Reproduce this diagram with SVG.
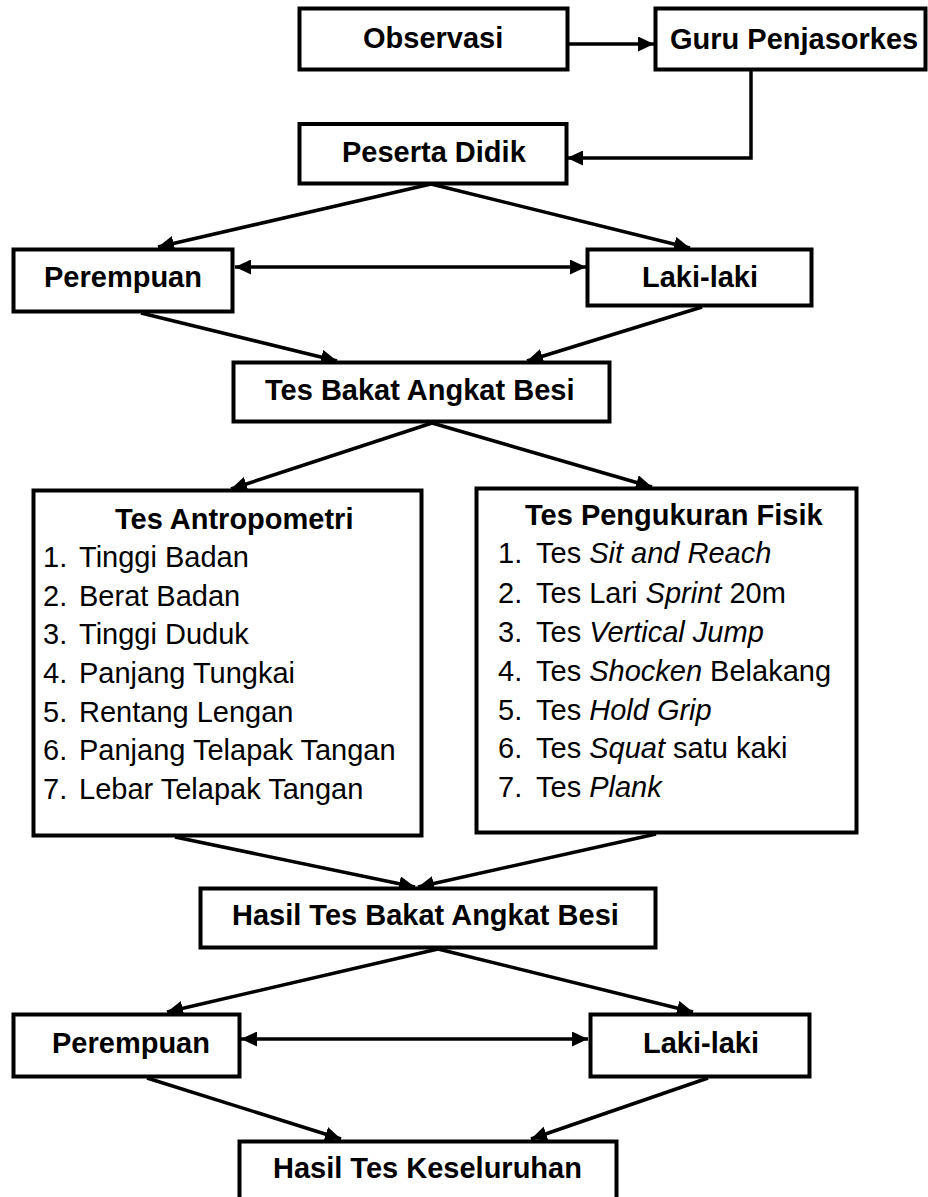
<svg xmlns="http://www.w3.org/2000/svg" width="928" height="1197" viewBox="0 0 928 1197">
<style>
.box{fill:#fff;stroke:#000;stroke-width:4}
.t{font-family:"Liberation Sans",Arial,sans-serif;font-size:29px;fill:#000}
.b{font-weight:bold}
.i{font-style:italic}
.c{fill:none;stroke:#000;stroke-width:3.5}
</style>
<defs>
<marker id="ah" markerWidth="16" markerHeight="15" refX="16" refY="7.5" orient="auto-start-reverse" markerUnits="userSpaceOnUse">
<path d="M0,0 L16,7.5 L0,15 z" fill="#000"/>
</marker>
</defs>
<rect width="928" height="1197" fill="#fff"/>
<g id="connectors">
<path class="c" d="M569,44 L654,44" marker-end="url(#ah)"/>
<path class="c" d="M751,71 L751,158 L567,158" marker-end="url(#ah)"/>
<path class="c" d="M431,184 L158,247" marker-end="url(#ah)"/>
<path class="c" d="M431,184 L690,248" marker-end="url(#ah)"/>
<path class="c" d="M235,267 L586,267" marker-start="url(#ah)" marker-end="url(#ah)"/>
<path class="c" d="M141,313 L337,361" marker-end="url(#ah)"/>
<path class="c" d="M702,307 L527,361" marker-end="url(#ah)"/>
<path class="c" d="M432,423 L231,489" marker-end="url(#ah)"/>
<path class="c" d="M432,423 L652,487" marker-end="url(#ah)"/>
<path class="c" d="M175,837 L415,887" marker-end="url(#ah)"/>
<path class="c" d="M656,834 L418,887" marker-end="url(#ah)"/>
<path class="c" d="M438,949 L167,1012" marker-end="url(#ah)"/>
<path class="c" d="M438,949 L693,1012" marker-end="url(#ah)"/>
<path class="c" d="M241,1039 L588,1039" marker-start="url(#ah)" marker-end="url(#ah)"/>
<path class="c" d="M147,1078 L341,1139" marker-end="url(#ah)"/>
<path class="c" d="M708,1078 L531,1139" marker-end="url(#ah)"/>
</g>
<g id="observasi">
<rect class="box" x="299.5" y="8.5" width="268" height="61"/>
<text class="t b" x="363" y="48">Observasi</text>
</g>
<g id="guru">
<rect class="box" x="655.5" y="8.5" width="270" height="61"/>
<text class="t b" x="670" y="49">Guru Penjasorkes</text>
</g>
<g id="peserta">
<rect class="box" x="299.5" y="124" width="267" height="59.5"/>
<text class="t b" x="342" y="162">Peserta Didik</text>
</g>
<g id="perempuan1">
<rect class="box" x="13.5" y="249.5" width="219" height="62"/>
<text class="t b" x="44" y="287">Perempuan</text>
</g>
<g id="laki1">
<rect class="box" x="587.5" y="249.5" width="224" height="56"/>
<text class="t b" x="642" y="287">Laki-laki</text>
</g>
<g id="tesbakat">
<rect class="box" x="233.5" y="362.5" width="376" height="59"/>
<text class="t b" x="265" y="400">Tes Bakat Angkat Besi</text>
</g>
<g id="antropometri">
<rect class="box" x="33.5" y="490.5" width="388" height="345"/>
<text class="t b" x="115" y="529">Tes Antropometri</text>
<text class="t" x="43" y="567">1.</text><text class="t" x="79" y="567">Tinggi Badan</text>
<text class="t" x="43" y="606">2.</text><text class="t" x="79" y="606">Berat Badan</text>
<text class="t" x="43" y="644">3.</text><text class="t" x="79" y="644">Tinggi Duduk</text>
<text class="t" x="43" y="683">4.</text><text class="t" x="79" y="683">Panjang Tungkai</text>
<text class="t" x="43" y="722">5.</text><text class="t" x="79" y="722">Rentang Lengan</text>
<text class="t" x="43" y="760">6.</text><text class="t" x="79" y="760">Panjang Telapak Tangan</text>
<text class="t" x="43" y="799">7.</text><text class="t" x="79" y="799">Lebar Telapak Tangan</text>
</g>
<g id="pengukuran">
<rect class="box" x="476.5" y="488.5" width="380" height="344"/>
<text class="t b" x="525" y="525">Tes Pengukuran Fisik</text>
<text class="t" x="498" y="563">1.</text><text class="t" x="536" y="563">Tes <tspan class="i">Sit and Reach</tspan></text>
<text class="t" x="498" y="603">2.</text><text class="t" x="536" y="603">Tes Lari <tspan class="i">Sprint</tspan> 20m</text>
<text class="t" x="498" y="642">3.</text><text class="t" x="536" y="642">Tes <tspan class="i">Vertical Jump</tspan></text>
<text class="t" x="498" y="681">4.</text><text class="t" x="536" y="681">Tes <tspan class="i">Shocken</tspan> Belakang</text>
<text class="t" x="498" y="720">5.</text><text class="t" x="536" y="720">Tes <tspan class="i">Hold Grip</tspan></text>
<text class="t" x="498" y="758">6.</text><text class="t" x="536" y="758">Tes <tspan class="i">Squat</tspan> satu kaki</text>
<text class="t" x="498" y="797">7.</text><text class="t" x="536" y="797">Tes <tspan class="i">Plank</tspan></text>
</g>
<g id="hasilbakat">
<rect class="box" x="200.5" y="888.5" width="455" height="59"/>
<text class="t b" x="232" y="925">Hasil Tes Bakat Angkat Besi</text>
</g>
<g id="perempuan2">
<rect class="box" x="13.5" y="1014.5" width="226" height="62"/>
<text class="t b" x="52" y="1053">Perempuan</text>
</g>
<g id="laki2">
<rect class="box" x="590.5" y="1014.5" width="219" height="62"/>
<text class="t b" x="643" y="1053">Laki-laki</text>
</g>
<g id="keseluruhan">
<rect class="box" x="239.5" y="1141.5" width="377" height="70"/>
<text class="t b" x="273" y="1178">Hasil Tes Keseluruhan</text>
</g>
</svg>
